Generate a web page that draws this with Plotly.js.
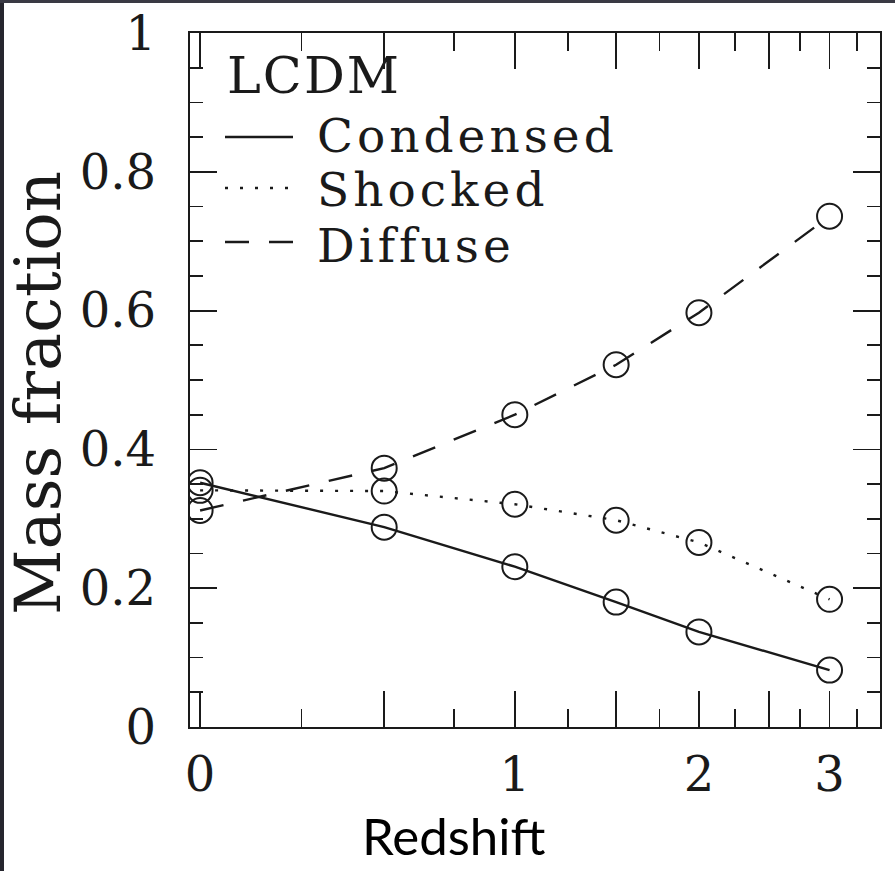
<!DOCTYPE html>
<html>
<head>
<meta charset="utf-8">
<script src="https://cdn.plot.ly/plotly-3.0.1.min.js"></script>
<style>html,body{margin:0;padding:0;background:#fff;}#chart{width:895px;height:871px;}</style>
</head>
<body>
<div id="chart"></div>
<script>
// ---- data ----
var redshift  = [0, 0.5, 1, 1.5, 2, 3];
var condensed = [0.352, 0.288, 0.231, 0.180, 0.137, 0.082];
var shocked   = [0.341, 0.340, 0.321, 0.298, 0.266, 0.184];
var diffuse   = [0.312, 0.373, 0.450, 0.522, 0.597, 0.736];

var seriesNames = ["Condensed", "Shocked", "Diffuse"];
var modelLabel = "LCDM";
var xMajorZ = [0, 0.5, 1, 1.5, 2, 2.5, 3];
var xMajorText = ["0", "", "1", "", "2", "", "3"];
var xMinorZ = [0.25, 0.75, 1.25, 1.75, 2.25, 2.75, 3.25];
var xTitle = "Redshift";
var yTitle = "Mass fraction";

// axis is log(1+z)
function onePlus(arr){ return arr.map(function(z){ return 1 + z; }); }
var xs = onePlus(redshift);

var ink = "#1a1a1a";
var serif = "DejaVu Serif, serif";

// plot area in pixels: x 190..880, y 33..727
function px(xp){ return (xp - 190) / 690; }
function py(yp){ return (727 - yp) / 694; }
function spaced(t, s){ return '<span style="letter-spacing:' + s + 'px">' + t + '</span>'; }

var dashes = ["solid", "3px,12px", "24px,20px"];
var values = [condensed, shocked, diffuse];

var traces = values.map(function(v, i){
  return {
    x: xs, y: v, type: "scatter", mode: "lines+markers", name: seriesNames[i],
    line: {color: ink, width: 2.4, dash: dashes[i]},
    marker: {symbol: "circle-open", size: 25, color: ink, line: {width: 2, color: ink}},
    showlegend: false, hoverinfo: "x+y"
  };
});

var sampleY = [137, 188, 242];
var textY = [135, 190, 245];
var shapes = [];
var annotations = [];
seriesNames.forEach(function(n, i){
  shapes.push({type: "line", xref: "paper", yref: "paper",
    x0: px(225), x1: px(293), y0: py(sampleY[i]), y1: py(sampleY[i]),
    line: {color: ink, width: 2.4, dash: dashes[i]}});
  annotations.push({xref: "paper", yref: "paper", x: px(315), y: py(textY[i]),
    xanchor: "left", yanchor: "middle", showarrow: false, text: spaced(n, 4),
    font: {family: serif, size: 47, color: ink}});
});
annotations.push({xref: "paper", yref: "paper", x: px(225), y: py(76),
  xanchor: "left", yanchor: "middle", showarrow: false, text: spaced(modelLabel, 2),
  font: {family: serif, size: 51, color: ink}});
annotations.push({xref: "paper", yref: "paper", x: px(454), y: py(835),
  xanchor: "center", yanchor: "middle", showarrow: false, text: xTitle,
  font: {family: "Lato, sans-serif", size: 51, color: "#000"}});
annotations.push({xref: "paper", yref: "paper", x: px(38), y: py(393),
  xanchor: "center", yanchor: "middle", showarrow: false, text: yTitle, textangle: -90,
  font: {family: serif, size: 64, color: ink}});

// thin dark frame strips at the image edge
shapes.push({type: "rect", xref: "paper", yref: "paper", x0: px(0), x1: px(4), y0: py(871), y1: py(0),
  fillcolor: "#26262e", line: {width: 0}});
shapes.push({type: "rect", xref: "paper", yref: "paper", x0: px(0), x1: px(895), y0: py(3), y1: py(0),
  fillcolor: "#3a3a44", line: {width: 0}});

var layout = {
  width: 895, height: 871,
  margin: {l: 190, r: 15, t: 33, b: 144},
  paper_bgcolor: "#fff", plot_bgcolor: "#fff",
  showlegend: false,
  xaxis: {
    type: "log",
    range: [Math.log10(0.978), Math.log10(4.47)],
    tickmode: "array", tickvals: onePlus(xMajorZ), ticktext: xMajorText,
    ticks: "inside", ticklen: 36, tickwidth: 1.8, tickcolor: ink,
    minor: {tickmode: "array", tickvals: onePlus(xMinorZ), ticks: "inside", ticklen: 18, tickwidth: 1.8, tickcolor: ink, showgrid: false},
    showline: true, linecolor: ink, linewidth: 2.4, mirror: "allticks",
    showgrid: false, zeroline: false,
    tickfont: {family: serif, size: 48, color: ink},
    ticklabelstandoff: 4
  },
  yaxis: {
    range: [0, 1],
    tickmode: "linear", tick0: 0, dtick: 0.2,
    ticks: "inside", ticklen: 27, tickwidth: 1.8, tickcolor: ink,
    minor: {tickmode: "linear", tick0: 0, dtick: 0.05, ticks: "inside", ticklen: 13, tickwidth: 1.8, tickcolor: ink, showgrid: false},
    showline: true, linecolor: ink, linewidth: 2.4, mirror: "allticks",
    showgrid: false, zeroline: false,
    tickfont: {family: serif, size: 48, color: ink},
    ticklabelstandoff: 22
  },
  shapes: shapes,
  annotations: annotations
};

Plotly.newPlot("chart", traces, layout, {displayModeBar: false, staticPlot: true});
</script>
</body>
</html>
